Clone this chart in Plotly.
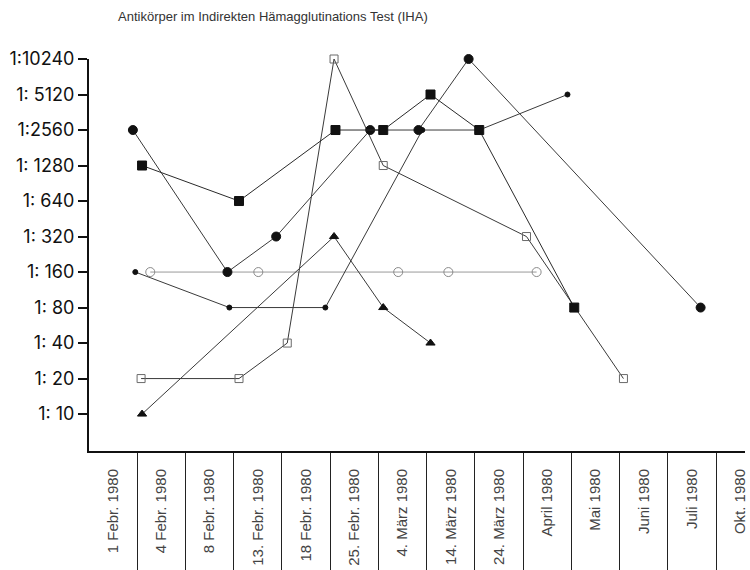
import plotly.graph_objects as go

# Sampling dates (category axis, shown as rotated labels)
dates = ["1 Febr. 1980", "4 Febr. 1980", "8 Febr. 1980", "13. Febr. 1980",
         "18 Febr. 1980", "25. Febr. 1980", "4. März 1980", "14. März 1980",
         "24. März 1980", "April 1980", "Mai 1980", "Juni 1980", "Juli 1980",
         "Okt. 1980"]

# Titer levels and their printed labels
titers = [10, 20, 40, 80, 160, 320, 640, 1280, 2560, 5120, 10240]
titer_labels = ["1: 10", "1: 20", "1: 40", "1: 80", "1: 160", "1: 320",
                "1: 640", "1: 1280", "1:2560", "1: 5120", "1:10240"]

# Patient series: position along the date axis (category index) and titer
p1_x = [0.41, 2.37, 3.38, 5.33, 6.33, 7.37, 12.18]
p1_y = [2560, 160, 320, 2560, 2560, 10240, 80]

p2_x = [0.46, 2.41, 4.40, 6.41, 7.59, 9.42]
p2_y = [160, 80, 80, 2560, 2560, 5120]

p3_x = [0.60, 2.61, 4.61, 5.60, 6.58, 7.59, 9.56]
p3_y = [1280, 640, 2560, 2560, 5120, 2560, 80]

p4_x = [0.58, 2.61, 3.61, 4.58, 5.60, 8.57, 10.58]
p4_y = [20, 20, 40, 10240, 1280, 320, 20]

p5_x = [0.77, 3.01, 5.91, 6.95, 8.78]
p5_y = [160, 160, 160, 160, 160]

p6_x = [0.60, 4.58, 5.60, 6.58]
p6_y = [10, 320, 80, 40]

series = [
    (p5_x, p5_y, "circle-open", 9, "#8a8a8a", "#9a9a9a"),
    (p4_x, p4_y, "square-open", 8, "#6a6a6a", "#3a3a3a"),
    (p6_x, p6_y, "triangle-up", 8, "#111111", "#3a3a3a"),
    (p2_x, p2_y, "circle", 5, "#111111", "#3a3a3a"),
    (p1_x, p1_y, "circle", 9, "#111111", "#3a3a3a"),
    (p3_x, p3_y, "square", 9, "#111111", "#2a2a2a"),
]

fig = go.Figure()
for xs, ys, sym, size, mcol, lcol in series:
    fig.add_trace(go.Scatter(
        x=xs, y=ys, mode="lines+markers", cliponaxis=False,
        line=dict(color=lcol, width=1),
        marker=dict(symbol=sym, size=size, color=mcol,
                    line=dict(color=mcol, width=1)),
        showlegend=False, hoverinfo="skip",
    ))

fig.update_layout(
    width=750, height=570,
    margin=dict(l=89, r=5, t=59, b=119),
    paper_bgcolor="white", plot_bgcolor="white",
    font=dict(family="Liberation Sans, Arial, sans-serif", color="#111"),
    title=dict(
        text="Antikörper im Indirekten Hämagglutinations Test (IHA)",
        font=dict(size=13, color="#333", family="Liberation Sans, Arial"),
        xref="container", yref="container", x=118 / 750, xanchor="left",
        y=1 - 16 / 570, yanchor="middle",
    ),
)

fig.update_yaxes(
    type="log", range=[0.687, 4.0103], automargin=False,
    tickvals=titers, ticktext=titer_labels,
    showgrid=False, zeroline=False,
    showline=True, linecolor="#111", linewidth=2,
    ticks="outside", ticklen=9, tickwidth=2, tickcolor="#111",
    tickfont=dict(size=18, color="#111", family="Inter, Liberation Sans"),
)

fig.update_xaxes(
    range=[-0.5, 13.1], automargin=False,
    tickvals=list(range(len(dates))), ticktext=dates,
    tickangle=-90, ticks="", ticklabelstandoff=10,
    tickfont=dict(size=15, color="#444"),
    showgrid=False, zeroline=False,
    showline=True, linecolor="#111", linewidth=2,
    minor=dict(tickmode="array",
               tickvals=[i + 0.5 for i in range(len(dates) - 1)],
               ticks="outside", ticklen=119, tickwidth=1, tickcolor="#222",
               showgrid=False),
)

fig.write_html("out.html")
